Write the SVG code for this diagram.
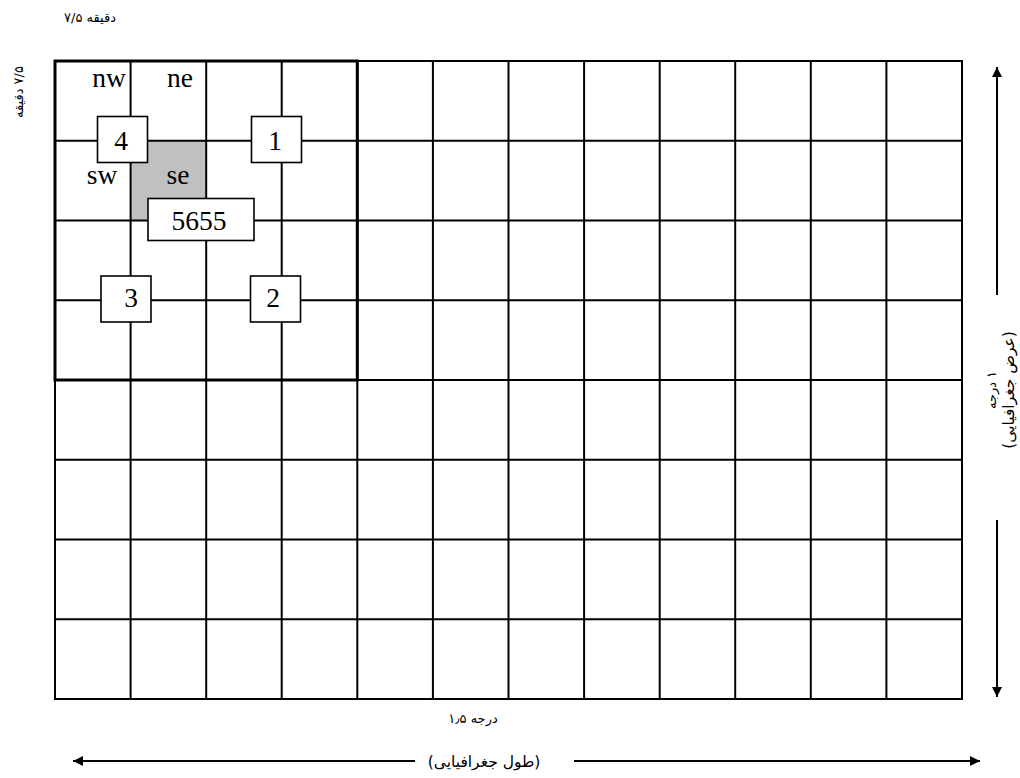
<svg xmlns="http://www.w3.org/2000/svg" width="1020" height="778" viewBox="0 0 1020 778">
<style>
.grid line{stroke:#000;stroke-width:2}
.box{fill:#fff;stroke:#000;stroke-width:1.6}
.lat{font-family:"Liberation Serif","Times New Roman",serif;font-size:27.5px;fill:#000;text-anchor:middle}
.fa{font-family:"DejaVu Sans","Noto Sans",sans-serif;font-size:13px;fill:#000;text-anchor:middle}
.fa2{font-family:"DejaVu Sans","Noto Sans",sans-serif;font-size:15.5px;fill:#000;text-anchor:middle}
.arr{stroke:#000;stroke-width:2;fill:none}
</style>
<defs>
<marker id="ah" viewBox="0 0 10 10" refX="10" refY="5" markerWidth="10" markerHeight="10" markerUnits="userSpaceOnUse" orient="auto">
<path d="M0,0 L10,5 L0,10 Z" fill="#000"/>
</marker>
</defs>
<rect width="1020" height="778" fill="#fff"/>
<rect id="shaded" x="130.6" y="140.75" width="75.6" height="79.75" fill="#c0c0c0"/>
<g id="grid" class="grid">
<line x1="130.6" y1="61" x2="130.6" y2="699"/>
<line x1="206.2" y1="61" x2="206.2" y2="699"/>
<line x1="281.7" y1="61" x2="281.7" y2="699"/>
<line x1="357.3" y1="61" x2="357.3" y2="699"/>
<line x1="432.9" y1="61" x2="432.9" y2="699"/>
<line x1="508.5" y1="61" x2="508.5" y2="699"/>
<line x1="584.1" y1="61" x2="584.1" y2="699"/>
<line x1="659.7" y1="61" x2="659.7" y2="699"/>
<line x1="735.2" y1="61" x2="735.2" y2="699"/>
<line x1="810.8" y1="61" x2="810.8" y2="699"/>
<line x1="886.4" y1="61" x2="886.4" y2="699"/>
<line x1="55" y1="140.75" x2="962" y2="140.75"/>
<line x1="55" y1="220.5" x2="962" y2="220.5"/>
<line x1="55" y1="300.25" x2="962" y2="300.25"/>
<line x1="55" y1="380" x2="962" y2="380"/>
<line x1="55" y1="459.75" x2="962" y2="459.75"/>
<line x1="55" y1="539.5" x2="962" y2="539.5"/>
<line x1="55" y1="619.25" x2="962" y2="619.25"/>
<rect x="55" y="61" width="907" height="638" fill="none" stroke="#000" stroke-width="2"/>
<rect x="55" y="61" width="302.3" height="319" fill="none" stroke="#000" stroke-width="3"/>
</g>
<g id="quadrant-labels" class="lat">
<text x="109" y="87">nw</text>
<text x="180" y="87">ne</text>
<text x="102" y="184">sw</text>
<text x="178" y="184">se</text>
</g>
<g id="node-4"><rect class="box" x="97.5" y="116.5" width="50" height="46"/><text class="lat" x="121" y="150">4</text></g>
<g id="node-1"><rect class="box" x="251.5" y="116.5" width="50" height="46"/><text class="lat" x="275" y="150">1</text></g>
<g id="node-5655"><rect class="box" x="148" y="198.5" width="106" height="42"/><text class="lat" x="199" y="230">5655</text></g>
<g id="node-3"><rect class="box" x="101" y="276" width="50" height="46"/><text class="lat" x="131" y="307">3</text></g>
<g id="node-2"><rect class="box" x="250.5" y="276" width="50" height="46"/><text class="lat" x="273" y="307">2</text></g>
<g id="connectors">
<line class="arr" x1="997" y1="295" x2="997" y2="67" marker-end="url(#ah)"/>
<line class="arr" x1="997" y1="520" x2="997" y2="697" marker-end="url(#ah)"/>
<line class="arr" x1="415" y1="761" x2="73" y2="761" marker-end="url(#ah)"/>
<line class="arr" x1="574" y1="761" x2="980" y2="761" marker-end="url(#ah)"/>
</g>
<g id="labels">
<text class="fa" x="90" y="22" direction="ltr">۷/۵ دقیقه</text>
<text class="fa" transform="translate(23,92) rotate(-90)" x="0" y="0" direction="rtl">۷/۵ دقیقه</text>
<text class="fa" x="473" y="723" direction="ltr">۱٫۵ درجه</text>
<text class="fa2" x="484" y="767" direction="rtl">(طول جغرافیایی)</text>
<g transform="translate(1003,390) rotate(-90)">
<text class="fa" x="0" y="-7" direction="rtl">۱ درجه</text>
<text class="fa2" x="0" y="11" direction="rtl">(عرض جغرافیایی)</text>
</g>
</g>
</svg>
